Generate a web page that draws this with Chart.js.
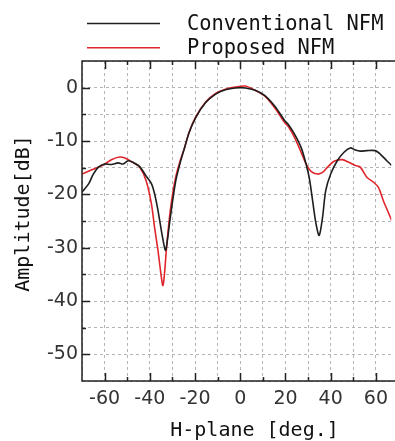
<!DOCTYPE html>
<html>
<head>
<meta charset="utf-8">
<script src="https://cdn.jsdelivr.net/npm/chart.js@4.4.1/dist/chart.umd.min.js"></script>
<style>
  html, body { margin: 0; padding: 0; background: #fff; }
  #wrap { width: 395px; height: 441px; }
</style>
</head>
<body>
<div id="wrap"><canvas id="chart" width="395" height="441"></canvas></div>
<script>
const convAngle = [-70, -67, -65, -62.7, -60, -57, -54, -51.8, -49.6, -47.5, -44.5, -41.6, -39.3, -37.9, -36.4, -34.9, -33.5, -33, -32.2, -31.3, -29.9, -28.4, -26.2, -24.8, -22.6, -19.7, -15.3, -10.9, -6.6, -2.2, 2.2, 6.6, 10.9, 15.3, 19.7, 21.1, 24, 26.9, 29.1, 30.6, 32, 33.5, 34.9, 36.4, 37.8, 40, 42.9, 45.9, 48.7, 50.9, 53.1, 56, 59.7, 61.8, 64.8, 67];
const convAmp = [-19.6, -18.0, -16.2, -14.9, -14.3, -14.4, -14.1, -14.3, -13.7, -14.0, -14.8, -16.6, -18.0, -19.9, -23.0, -26.8, -30.0, -30.5, -28.5, -25.5, -21.2, -17.2, -13.5, -11.5, -8.4, -5.6, -2.8, -1.2, -0.4, -0.05, -0.05, -0.5, -1.5, -3.5, -6.2, -6.8, -8.7, -11.2, -14.3, -17.1, -21.2, -25.5, -27.7, -24.3, -19.3, -16.2, -13.7, -12.1, -11.3, -11.7, -11.9, -11.8, -11.8, -12.4, -13.7, -14.6];

const propAngle = [-70, -65.7, -60.6, -57, -53.3, -51, -47.5, -44.5, -41.6, -39.3, -37.9, -36.4, -34.9, -34.2, -33.5, -32.7, -31.3, -29.9, -28.4, -26.2, -24.8, -22.6, -19.7, -15.3, -10.9, -6.6, -2.2, 2.2, 6.6, 10.9, 15.3, 19.7, 21.1, 24, 26.9, 29.1, 31.3, 34.2, 36.4, 38.6, 41.5, 45.1, 48, 50.9, 53.1, 56, 58.9, 61.1, 63.3, 65.5, 67];
const propAmp = [-16.2, -15.4, -14.5, -13.5, -13.0, -13.2, -14.0, -14.9, -17.5, -21.8, -26.2, -30.5, -35.5, -37.1, -34.8, -30.5, -24.3, -19.9, -16.5, -13.2, -11.5, -8.3, -5.5, -2.7, -1.1, -0.3, 0.1, 0.3, -0.5, -1.6, -3.8, -6.6, -7.2, -9.3, -12.1, -14.3, -15.7, -16.2, -15.9, -14.9, -13.8, -13.5, -14.0, -14.6, -14.9, -16.8, -17.7, -18.7, -21.2, -23.4, -24.9];

const xTickLabels = [-60, -40, -20, 0, 20, 40, 60];
const yTickLabels = [0, -10, -20, -30, -40, -50];
const seriesNames = ["Conventional NFM", "Proposed NFM"];
const seriesColors = ["#1e1e1e", "#e0262c"];
const xTitle = "H-plane [deg.]";
const yTitle = "Amplitude[dB]";

const X_MIN = -70, X_MAX = 66.8, Y_MIN = -55, Y_MAX = 5;
const MONO = '"DejaVu Sans Mono", monospace';

function toPoints(xs, ys) {
  return xs.map((x, i) => ({ x: x, y: ys[i] }));
}

// grid every 10 deg / 5 dB, labels only on the listed values
function gridValues(min, max, step) {
  const out = [];
  for (let v = Math.ceil(min / step) * step; v <= max + 1e-9; v += step) out.push(v);
  return out;
}

const frame = {
  id: "frame",
  afterDraw(chart) {
    const { ctx, chartArea: a, scales: { x, y } } = chart;
    ctx.save();
    ctx.strokeStyle = "#222";
    ctx.lineWidth = 1.5;
    ctx.beginPath();
    ctx.moveTo(a.right + 5, a.top);
    ctx.lineTo(a.left, a.top);
    ctx.lineTo(a.left, a.bottom);
    ctx.lineTo(a.right + 5, a.bottom);
    ctx.stroke();

    ctx.beginPath();
    x.ticks.forEach(t => {
      if (t.value <= X_MIN || t.value >= X_MAX) return;
      const px = Math.round(x.getPixelForValue(t.value)) + 0.5;
      const len = xTickLabels.includes(t.value) ? 8 : 4;
      ctx.moveTo(px, a.bottom);
      ctx.lineTo(px, a.bottom - len);
      ctx.moveTo(px, a.top);
      ctx.lineTo(px, a.top + len);
    });
    y.ticks.forEach(t => {
      if (t.value <= Y_MIN || t.value >= Y_MAX) return;
      const py = Math.round(y.getPixelForValue(t.value)) + 0.5;
      const len = yTickLabels.includes(t.value) ? 8 : 4;
      ctx.moveTo(a.left, py);
      ctx.lineTo(a.left + len, py);
    });
    ctx.stroke();

    // legend
    ctx.lineWidth = 1.6;
    seriesNames.forEach((name, i) => {
      const ly = 23.5 + i * 24.3;
      ctx.strokeStyle = seriesColors[i];
      ctx.beginPath();
      ctx.moveTo(87, ly);
      ctx.lineTo(160, ly);
      ctx.stroke();
      ctx.fillStyle = "#111";
      ctx.font = "20.4px " + MONO;
      ctx.textAlign = "left";
      ctx.textBaseline = "alphabetic";
      ctx.fillText(name, 187, 29.5 + i * 24.3);
    });

    // axis titles
    ctx.font = "20px " + MONO;
    ctx.textAlign = "center";
    ctx.fillText(xTitle, 254.5, 436);
    ctx.translate(29, 213.5);
    ctx.rotate(-Math.PI / 2);
    ctx.fillText(yTitle, 0, 0);
    ctx.restore();
  }
};

const tickFont = { family: '"DejaVu Sans", sans-serif', size: 19 };

new Chart(document.getElementById("chart"), {
  type: "line",
  data: {
    datasets: [
      {
        label: seriesNames[0],
        data: toPoints(convAngle, convAmp),
        borderColor: seriesColors[0],
        borderWidth: 1.6,
        pointRadius: 0,
        tension: 0.3,
        fill: false,
      },
      {
        label: seriesNames[1],
        data: toPoints(propAngle, propAmp),
        borderColor: seriesColors[1],
        borderWidth: 1.6,
        pointRadius: 0,
        tension: 0.3,
        fill: false,
      },
    ],
  },
  options: {
    responsive: false,
    animation: false,
    devicePixelRatio: 1,
    layout: { padding: { top: 61, right: 0, left: 0, bottom: 0 } },
    plugins: { legend: { display: false }, tooltip: { enabled: false } },
    scales: {
      x: {
        type: "linear",
        min: X_MIN,
        max: X_MAX,
        afterBuildTicks: (s) => { s.ticks = gridValues(X_MIN, X_MAX, 10).map(v => ({ value: v })); },
        afterFit: (s) => { s.height = 60; },
        ticks: {
          autoSkip: false,
          maxRotation: 0,
          padding: 7,
          color: "#333",
          font: tickFont,
          callback: (v) => (xTickLabels.includes(v) ? String(v) : ""),
        },
        grid: { color: "#b5b5b5", lineWidth: 1, drawTicks: false },
        border: { display: false, dash: [3, 3] },
      },
      y: {
        type: "linear",
        min: Y_MIN,
        max: Y_MAX,
        afterBuildTicks: (s) => { s.ticks = gridValues(Y_MIN, Y_MAX, 5).map(v => ({ value: v })); },
        afterFit: (s) => { s.width = 82; },
        ticks: {
          autoSkip: false,
          padding: 4,
          color: "#333",
          font: tickFont,
          callback: (v) => (yTickLabels.includes(v) ? String(v) : ""),
        },
        grid: { color: "#b5b5b5", lineWidth: 1, drawTicks: false },
        border: { display: false, dash: [3, 3] },
      },
    },
  },
  plugins: [frame],
});
</script>
</body>
</html>
